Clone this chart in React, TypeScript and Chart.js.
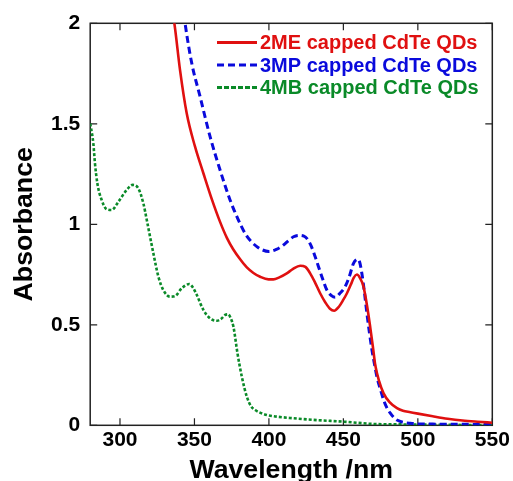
import { useEffect, useRef } from 'react';
import { Chart, registerables } from 'chart.js';

Chart.register(...registerables);

// ---- Data ----
const WL_2ME = [334, 336.5, 340.3, 344.8, 350.4, 356, 361.7, 367.2, 371.7, 376, 380.7, 385, 389.6, 394.1, 399.7, 403, 407, 412, 416, 421, 424.5, 427.7, 431, 434.4, 438, 441, 443.8, 447, 450, 452.4, 455, 457, 459.1, 461, 463.5, 466, 468, 470, 471.4, 474, 477, 481, 486, 490, 495, 500, 510, 520, 530, 540, 550];
const ABS_2ME = [2.1, 2.0, 1.768, 1.552, 1.386, 1.254, 1.124, 1.012, 0.934, 0.876, 0.826, 0.787, 0.758, 0.739, 0.726, 0.726, 0.736, 0.756, 0.777, 0.794, 0.788, 0.756, 0.71, 0.657, 0.61, 0.58, 0.57, 0.59, 0.625, 0.657, 0.7, 0.735, 0.75, 0.735, 0.69, 0.59, 0.49, 0.38, 0.3, 0.22, 0.159, 0.115, 0.085, 0.072, 0.065, 0.058, 0.045, 0.033, 0.024, 0.018, 0.013];

const WL_3MP = [342, 343.7, 348.2, 353.8, 360.5, 367.2, 373.9, 379, 384, 388, 391.9, 395.5, 400, 405, 409.8, 413, 416.5, 420, 423.2, 426, 428.5, 431, 433.3, 436, 438.9, 442, 444.5, 447.5, 451.2, 454, 456.8, 459.5, 461, 462.4, 464, 465.8, 467.5, 469.2, 471, 472.5, 475, 477, 479, 481.5, 484, 486, 490, 495, 500, 510, 520, 530, 540, 550];
const ABS_3MP = [2.1, 2.0, 1.801, 1.635, 1.436, 1.27, 1.121, 1.03, 0.955, 0.915, 0.889, 0.873, 0.865, 0.875, 0.897, 0.918, 0.938, 0.945, 0.942, 0.925, 0.89, 0.84, 0.789, 0.73, 0.673, 0.645, 0.637, 0.655, 0.69, 0.74, 0.806, 0.826, 0.81, 0.756, 0.67, 0.557, 0.46, 0.375, 0.3, 0.242, 0.175, 0.126, 0.09, 0.06, 0.038, 0.026, 0.015, 0.01, 0.008, 0.006, 0.005, 0.005, 0.004, 0.004];

const WL_4MB = [280, 282.1, 283.2, 284.8, 287.7, 291.1, 294.4, 298.9, 304.5, 308.5, 312.3, 315.7, 318, 320.2, 322.4, 325.8, 329.1, 333.6, 337, 341.5, 346.6, 349, 351.6, 356, 360.5, 365, 368, 370.6, 372.8, 374.5, 376.2, 378.9, 381.8, 385.2, 388, 390.8, 394, 398.6, 405.3, 416.5, 430, 450, 472.5, 500, 525, 550];
const ABS_4MB = [1.502, 1.403, 1.303, 1.204, 1.121, 1.075, 1.071, 1.112, 1.171, 1.196, 1.179, 1.104, 1.021, 0.938, 0.856, 0.739, 0.673, 0.64, 0.643, 0.682, 0.703, 0.685, 0.648, 0.574, 0.532, 0.52, 0.53, 0.549, 0.552, 0.53, 0.49, 0.358, 0.242, 0.142, 0.095, 0.076, 0.063, 0.051, 0.043, 0.035, 0.027, 0.018, 0.006, 0.004, 0.002, 0.001];

const SERIES_LABELS = ['2ME capped CdTe QDs', '3MP capped CdTe QDs', '4MB capped CdTe QDs'];
const X_TICKS = [300, 350, 400, 450, 500, 550];
const Y_TICKS = [0, 0.5, 1, 1.5, 2];
const X_TITLE = 'Wavelength /nm';
const Y_TITLE = 'Absorbance';

// ---- Styles ----
const COLORS = ['#E01010', '#0A0ADC', '#0A8A28'];
const DASHES: number[][] = [[], [7, 4], [3, 2]];
const LEGEND_DASHES: number[][] = [[], [7, 4], [5, 2]];
const WIDTHS = [2.6, 3, 2.6];
const FONT = "'Liberation Sans', Arial, sans-serif";

const pts = (xs: number[], ys: number[]) => xs.map((x, i) => ({ x, y: ys[i] }));

const framePlugin = {
  id: 'frameTicks',
  beforeDatasetsDraw(chart: any) {
    const { ctx, chartArea } = chart;
    const { left, right, top, bottom } = chartArea;
    const xs = chart.scales.x;
    const ys = chart.scales.y;
    const tl = 7;
    ctx.save();
    ctx.strokeStyle = '#222';
    ctx.lineWidth = 1.5;
    ctx.setLineDash([]);
    ctx.strokeRect(left, top, right - left, bottom - top);
    ctx.lineWidth = 1.2;
    ctx.beginPath();
    X_TICKS.forEach((v) => {
      const px = xs.getPixelForValue(v);
      ctx.moveTo(px, bottom);
      ctx.lineTo(px, bottom - tl);
      ctx.moveTo(px, top);
      ctx.lineTo(px, top + tl);
    });
    Y_TICKS.forEach((v) => {
      const py = ys.getPixelForValue(v);
      ctx.moveTo(left, py);
      ctx.lineTo(left + tl, py);
      ctx.moveTo(right, py);
      ctx.lineTo(right - tl, py);
    });
    ctx.stroke();
    ctx.restore();
  },
  afterDraw(chart: any) {
    const { ctx } = chart;
    const lineX0 = 217;
    const lineX1 = 257;
    const textX = 260;
    const rowY = [43.5, 66, 88.5];
    ctx.save();
    SERIES_LABELS.forEach((label, i) => {
      const y = rowY[i];
      ctx.strokeStyle = COLORS[i];
      ctx.lineWidth = 3;
      ctx.setLineDash(LEGEND_DASHES[i]);
      ctx.beginPath();
      ctx.moveTo(lineX0, y - 1);
      ctx.lineTo(lineX1, y - 1);
      ctx.stroke();
      ctx.setLineDash([]);
      ctx.fillStyle = COLORS[i];
      ctx.font = `bold 20px ${FONT}`;
      ctx.textAlign = 'left';
      ctx.textBaseline = 'middle';
      ctx.fillText(label, textX, y);
    });
    ctx.restore();
  },
};

export default function App() {
  const ref = useRef<HTMLCanvasElement | null>(null);

  useEffect(() => {
    if (!ref.current) return;
    const series = [pts(WL_2ME, ABS_2ME), pts(WL_3MP, ABS_3MP), pts(WL_4MB, ABS_4MB)];
    const chart = new Chart(ref.current, {
      type: 'line',
      data: {
        datasets: series.map((data, i) => ({
          label: SERIES_LABELS[i],
          data,
          borderColor: COLORS[i],
          backgroundColor: COLORS[i],
          borderWidth: WIDTHS[i],
          borderDash: DASHES[i],
          pointRadius: 0,
          fill: false,
          cubicInterpolationMode: 'monotone' as const,
        })),
      },
      options: {
        animation: false,
        responsive: true,
        maintainAspectRatio: false,
        layout: { padding: { top: 23.3, right: 20.7, left: 0, bottom: 0 } },
        plugins: { legend: { display: false }, tooltip: { enabled: false } },
        scales: {
          x: {
            type: 'linear',
            min: 280,
            max: 550,
            afterBuildTicks: (scale: any) => {
              scale.ticks = X_TICKS.map((value) => ({ value }));
            },
            afterFit: (scale: any) => {
              scale.height = 55.7;
            },
            grid: { display: false, drawTicks: false },
            border: { display: false },
            ticks: {
              color: '#000',
              padding: 2,
              maxRotation: 0,
              font: { family: FONT, size: 21, weight: 'bold' },
              callback: (v: any) => String(v),
            },
            title: {
              display: true,
              text: X_TITLE,
              color: '#000',
              font: { family: FONT, size: 26.7, weight: 'bold', lineHeight: 1 },
              padding: { top: 0, bottom: -3 },
            },
          },
          y: {
            type: 'linear',
            min: 0,
            max: 2,
            afterBuildTicks: (scale: any) => {
              scale.ticks = Y_TICKS.map((value) => ({ value }));
            },
            afterFit: (scale: any) => {
              scale.width = 90.2;
            },
            grid: { display: false, drawTicks: false },
            border: { display: false },
            ticks: {
              color: '#000',
              padding: 10,
              font: { family: FONT, size: 21, weight: 'bold' },
              callback: (v: any) => String(v),
            },
            title: {
              display: true,
              text: Y_TITLE,
              color: '#000',
              font: { family: FONT, size: 26.7, weight: 'bold', lineHeight: 1 },
              padding: { top: 11, bottom: 0 },
            },
          },
        },
      },
      plugins: [framePlugin],
    });
    return () => chart.destroy();
  }, []);

  return (
    <div style={{ position: 'fixed', left: 0, top: 0, width: 513, height: 481, background: '#fff' }}>
      <canvas ref={ref} />
    </div>
  );
}
